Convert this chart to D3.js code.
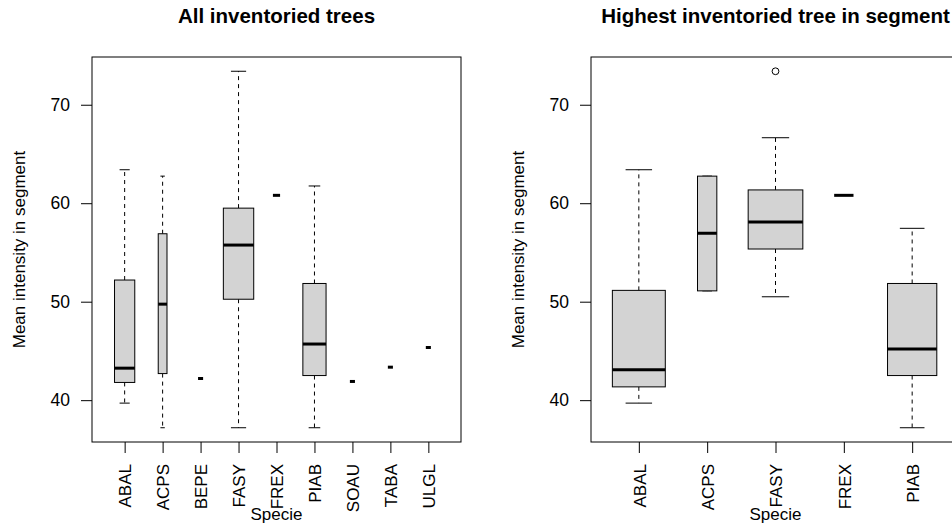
<!DOCTYPE html>
<html lang="en">
<head>
    <meta charset="UTF-8">
    <title>Mean intensity by specie</title>
    <style>
        body { margin: 0; background: white; }
        text { font-family: "Liberation Sans", Arial, sans-serif; fill: black; }
    </style>
    <script src="https://d3js.org/d3.v7.min.js"></script>
</head>
<body>
<script>
//values
const leftSpecies = ["ABAL", "ACPS", "BEPE", "FASY", "FREX", "PIAB", "SOAU", "TABA", "ULGL"];
const leftCounts  = [16, 3, 1, 36, 2, 21, 1, 1, 1];
const leftLow     = [39.7, 37.2, 42.2, 37.2, 60.8, 37.2, 41.9, 43.35, 45.35];
const leftQ1      = [41.8, 42.7, 42.2, 50.25, 60.8, 42.5, 41.9, 43.35, 45.35];
const leftMedian  = [43.25, 49.75, 42.2, 55.75, 60.8, 45.7, 41.9, 43.35, 45.35];
const leftQ3      = [52.2, 56.9, 42.2, 59.5, 60.8, 51.85, 41.9, 43.35, 45.35];
const leftHigh    = [63.4, 62.75, 42.2, 73.4, 60.8, 61.75, 41.9, 43.35, 45.35];
const leftOutliers = [[], [], [], [], [], [], [], [], []];

const rightSpecies = ["ABAL", "ACPS", "FASY", "FREX", "PIAB"];
const rightCounts  = [15, 2, 16, 2, 13];
const rightLow     = [39.7, 51.1, 50.5, 60.8, 37.2];
const rightQ1      = [41.35, 51.1, 55.35, 60.8, 42.5];
const rightMedian  = [43.1, 56.95, 58.1, 60.8, 45.2];
const rightQ3      = [51.15, 62.75, 61.35, 60.8, 51.85];
const rightHigh    = [63.4, 62.75, 66.65, 60.8, 57.45];
const rightOutliers = [[], [], [73.4], [], []];

const yTicks = [40, 50, 60, 70];

var svg = d3.select("body")
    .append("svg")
    .attr("width", 952)
    .attr("height", 527);

var plotTop = 57, plotBottom = 442;

function drawPanel(p) {
    var n = p.species.length;
    //R style limits: 0.5..n+0.5 padded by 4%
    var x = d3.scaleLinear()
        .domain([0.5 - 0.04 * n, n + 0.5 + 0.04 * n])
        .range([p.left, p.right]);

    var all = p.low.concat(p.high, d3.merge(p.outliers));
    var lo = d3.min(all), hi = d3.max(all), pad = (hi - lo) * 0.04;
    var y = d3.scaleLinear().domain([lo - pad, hi + pad]).range([plotBottom, plotTop]);

    var maxN = d3.max(p.counts);
    var unit = x(2) - x(1);

    var rows = p.species.map(function (s, i) {
        return {
            name: s, pos: i + 1,
            half: 0.4 * unit * Math.sqrt(p.counts[i]) / Math.sqrt(maxN),
            low: p.low[i], q1: p.q1[i], med: p.median[i], q3: p.q3[i], high: p.high[i],
            out: p.outliers[i]
        };
    });

    var g = svg.append("g");

    //dashed whiskers
    g.selectAll(".whisk-up").data(rows).enter().append("line")
        .attr("x1", d => x(d.pos)).attr("x2", d => x(d.pos))
        .attr("y1", d => y(d.q3)).attr("y2", d => y(d.high))
        .attr("stroke", "black").attr("stroke-dasharray", "4,4");
    g.selectAll(".whisk-down").data(rows).enter().append("line")
        .attr("x1", d => x(d.pos)).attr("x2", d => x(d.pos))
        .attr("y1", d => y(d.q1)).attr("y2", d => y(d.low))
        .attr("stroke", "black").attr("stroke-dasharray", "4,4");

    //staples, half the box width
    ["low", "high"].forEach(function (k) {
        g.selectAll(".staple-" + k).data(rows).enter().append("line")
            .attr("x1", d => x(d.pos) - d.half / 2).attr("x2", d => x(d.pos) + d.half / 2)
            .attr("y1", d => y(d[k])).attr("y2", d => y(d[k]))
            .attr("stroke", "black");
    });

    //boxes
    g.selectAll(".box").data(rows).enter().append("rect")
        .attr("x", d => x(d.pos) - d.half)
        .attr("width", d => 2 * d.half)
        .attr("y", d => y(d.q3))
        .attr("height", d => y(d.q1) - y(d.q3))
        .attr("fill", "lightgray")
        .attr("stroke", "black")
        .attr("stroke-width", 1);

    //medians
    g.selectAll(".median").data(rows).enter().append("line")
        .attr("x1", d => x(d.pos) - d.half).attr("x2", d => x(d.pos) + d.half)
        .attr("y1", d => y(d.med)).attr("y2", d => y(d.med))
        .attr("stroke", "black").attr("stroke-width", 3);

    //outliers
    rows.forEach(function (d) {
        g.selectAll(null).data(d.out).enter().append("circle")
            .attr("cx", x(d.pos)).attr("cy", v => y(v))
            .attr("r", 3.4)
            .attr("fill", "none").attr("stroke", "black");
    });

    //frame
    g.append("rect")
        .attr("x", p.left).attr("y", plotTop)
        .attr("width", p.right - p.left).attr("height", plotBottom - plotTop)
        .attr("fill", "none").attr("stroke", "black");

    //y axis
    var ya = g.append("g")
        .attr("transform", "translate(" + p.left + ",0)")
        .call(d3.axisLeft(y).tickValues(yTicks).tickSize(11).tickPadding(11));
    ya.select(".domain").remove();
    ya.selectAll("line").attr("stroke", "black");
    ya.selectAll("text").style("font-size", "17.5px").attr("fill", "black");

    //x axis with rotated specie codes
    var xa = g.append("g")
        .attr("transform", "translate(0," + plotBottom + ")")
        .call(d3.axisBottom(x).tickValues(d3.range(1, n + 1)).tickSize(11)
            .tickFormat(i => p.species[i - 1]));
    xa.select(".domain").remove();
    xa.selectAll("line").attr("stroke", "black");
    xa.selectAll("text")
        .style("font-size", "17px").attr("fill", "black")
        .attr("transform", "rotate(-90)")
        .attr("x", -22).attr("y", 0).attr("dy", "0.37em")
        .attr("text-anchor", "end");

    var mid = (p.left + p.right) / 2;

    g.append("text")
        .attr("x", mid).attr("y", 23)
        .attr("text-anchor", "middle")
        .style("font-size", "20.5px").style("font-weight", "bold")
        .text(p.title);

    g.append("text")
        .attr("x", mid).attr("y", 520)
        .attr("text-anchor", "middle")
        .style("font-size", "17px")
        .text("Specie");

    g.append("text")
        .attr("transform", "translate(" + (p.left - 67) + "," + ((plotTop + plotBottom) / 2) + ") rotate(-90)")
        .attr("text-anchor", "middle")
        .style("font-size", "17px")
        .text("Mean intensity in segment");
}

drawPanel({
    title: "All inventoried trees",
    species: leftSpecies, counts: leftCounts,
    low: leftLow, q1: leftQ1, median: leftMedian, q3: leftQ3, high: leftHigh,
    outliers: leftOutliers,
    left: 92, right: 461
});

drawPanel({
    title: "Highest inventoried tree in segment",
    species: rightSpecies, counts: rightCounts,
    low: rightLow, q1: rightQ1, median: rightMedian, q3: rightQ3, high: rightHigh,
    outliers: rightOutliers,
    left: 591, right: 960
});
</script>
</body>
</html>
